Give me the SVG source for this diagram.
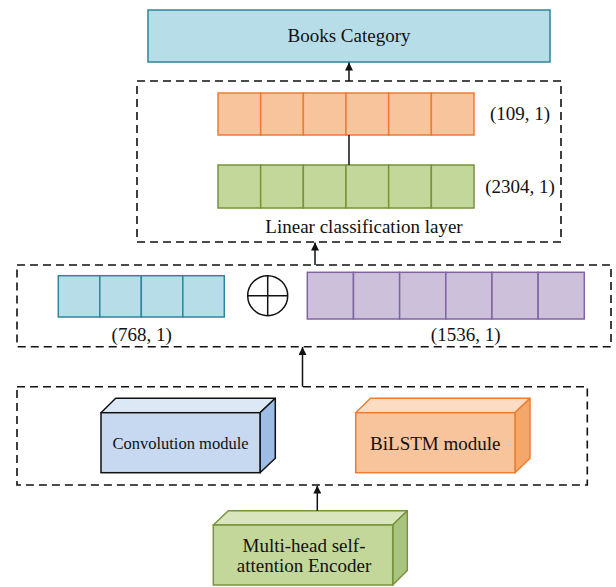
<svg xmlns="http://www.w3.org/2000/svg" width="616" height="587" viewBox="0 0 616 587">
<style>
text{font-family:"Liberation Serif","Times New Roman",serif;fill:#111;text-anchor:middle}
.t19{font-size:19px}
.dash{fill:none;stroke:#111;stroke-width:1.6;stroke-dasharray:8 5}
.cy{fill:#b7dde8;stroke:#31849b;stroke-width:1.5}
.or{fill:#f8c49c;stroke:#ed7d31;stroke-width:1.5}
.gr{fill:#c4d79b;stroke:#77933c;stroke-width:1.5}
.pu{fill:#ccc0da;stroke:#8064a2;stroke-width:1.5}
.ln{stroke:#111;stroke-width:1.5;fill:none}
</style>
<defs>
<marker id="ah" viewBox="0 0 10 10" refX="10" refY="5" markerWidth="8" markerHeight="8" markerUnits="userSpaceOnUse" orient="auto">
<path d="M0,0 L10,5 L0,10 z" fill="#111"/>
</marker>
</defs>

<g id="books">
<rect x="148" y="10" width="402" height="52" class="cy"/>
<text x="349" y="42" class="t19">Books Category</text>
</g>

<g id="linear-layer">
<rect x="137" y="81" width="424" height="161" class="dash"/>
<g id="out-vector">
<rect x="218" y="93" width="42.67" height="42" class="or"/>
<rect x="260.67" y="93" width="42.67" height="42" class="or"/>
<rect x="303.33" y="93" width="42.67" height="42" class="or"/>
<rect x="346" y="93" width="42.67" height="42" class="or"/>
<rect x="388.67" y="93" width="42.67" height="42" class="or"/>
<rect x="431.33" y="93" width="42.67" height="42" class="or"/>
<text x="520" y="120" class="t19">(109, 1)</text>
</g>
<g id="in-vector">
<rect x="218" y="165" width="42.67" height="43" class="gr"/>
<rect x="260.67" y="165" width="42.67" height="43" class="gr"/>
<rect x="303.33" y="165" width="42.67" height="43" class="gr"/>
<rect x="346" y="165" width="42.67" height="43" class="gr"/>
<rect x="388.67" y="165" width="42.67" height="43" class="gr"/>
<rect x="431.33" y="165" width="42.67" height="43" class="gr"/>
<text x="520" y="193" class="t19">(2304, 1)</text>
</g>
<text x="364" y="232.5" class="t19">Linear classification layer</text>
</g>

<g id="concat-layer">
<rect x="17" y="265" width="594" height="81.7" class="dash"/>
<g id="cnn-vector">
<rect x="58.3" y="275.7" width="41.5" height="41.3" class="cy"/>
<rect x="99.8" y="275.7" width="41.5" height="41.3" class="cy"/>
<rect x="141.3" y="275.7" width="41.5" height="41.3" class="cy"/>
<rect x="182.8" y="275.7" width="41.5" height="41.3" class="cy"/>
<text x="141.7" y="341" class="t19">(768, 1)</text>
</g>
<g id="oplus">
<circle cx="267.7" cy="295.7" r="20" class="ln"/>
<line x1="247.7" y1="295.7" x2="287.7" y2="295.7" class="ln"/>
<line x1="267.7" y1="275.7" x2="267.7" y2="315.7" class="ln"/>
</g>
<g id="lstm-vector">
<rect x="307.3" y="272.3" width="46.17" height="46.7" class="pu"/>
<rect x="353.47" y="272.3" width="46.17" height="46.7" class="pu"/>
<rect x="399.63" y="272.3" width="46.17" height="46.7" class="pu"/>
<rect x="445.8" y="272.3" width="46.17" height="46.7" class="pu"/>
<rect x="491.97" y="272.3" width="46.17" height="46.7" class="pu"/>
<rect x="538.13" y="272.3" width="46.17" height="46.7" class="pu"/>
<text x="465.7" y="341" class="t19">(1536, 1)</text>
</g>
</g>

<g id="feature-layer">
<rect x="17" y="386.7" width="570.3" height="98.3" class="dash"/>
<g id="conv">
<polygon points="101,412.7 115.7,398.3 275.3,398.3 260,412.7" fill="#dde8f6" stroke="#111" stroke-width="1.5" stroke-linejoin="round"/>
<polygon points="260,412.7 275.3,398.3 275.3,458.3 260,472.7" fill="#9dbde5" stroke="#111" stroke-width="1.5" stroke-linejoin="round"/>
<rect x="101" y="412.7" width="159" height="60" fill="#c6d9f1" stroke="#111" stroke-width="1.5"/>
<text x="180.5" y="449.3" style="font-size:16.5px">Convolution module</text>
</g>
<g id="bilstm">
<polygon points="355.7,412.7 370.5,398.3 530,398.3 515,412.7" fill="#fcdcc3" stroke="#ed7d31" stroke-width="1.5" stroke-linejoin="round"/>
<polygon points="515,412.7 530,398.3 530,458.3 515,472.7" fill="#f4a76a" stroke="#ed7d31" stroke-width="1.5" stroke-linejoin="round"/>
<rect x="355.7" y="412.7" width="159.3" height="60" fill="#f8c49c" stroke="#ed7d31" stroke-width="1.5"/>
<text x="435.3" y="450" class="t19">BiLSTM module</text>
</g>
</g>

<g id="encoder">
<polygon points="213.3,525 228.3,510.7 407.3,510.7 392.7,525" fill="#d9e5bd" stroke="#77933c" stroke-width="1.5" stroke-linejoin="round"/>
<polygon points="392.7,525 407.3,510.7 407.3,570.5 392.7,585" fill="#a9c47f" stroke="#77933c" stroke-width="1.5" stroke-linejoin="round"/>
<rect x="213.3" y="525" width="179.4" height="60" fill="#c4d79b" stroke="#77933c" stroke-width="1.5"/>
<text x="304" y="551.7" class="t19">Multi-head self-</text>
<text x="304" y="571.7" class="t19">attention Encoder</text>
</g>

<g id="connectors">
<line x1="349" y1="81" x2="349" y2="62.5" class="ln" marker-end="url(#ah)"/>
<line x1="349" y1="135" x2="349" y2="165" class="ln"/>
<line x1="315" y1="265" x2="315" y2="242.5" class="ln" marker-end="url(#ah)"/>
<line x1="302.5" y1="386.7" x2="302.5" y2="347" class="ln" marker-end="url(#ah)"/>
<line x1="317.3" y1="510.7" x2="317.3" y2="485.5" class="ln" marker-end="url(#ah)"/>
</g>
</svg>
